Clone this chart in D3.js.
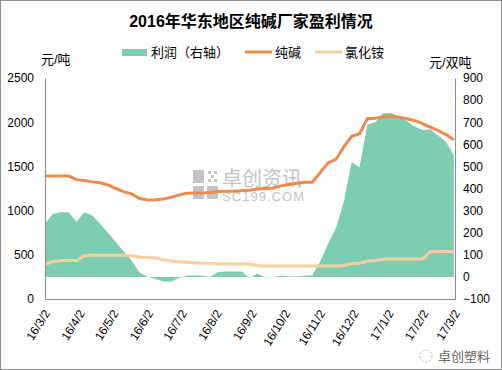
<!DOCTYPE html>
<html>
<head>
<meta charset="utf-8">
<script src="https://cdn.jsdelivr.net/npm/d3@7"></script>
<style>
  body { margin: 0; background: #fff; }
  svg { display: block; }
  text { font-family: "Liberation Sans", "Noto Sans CJK SC", sans-serif; }
</style>
</head>
<body>
<div id="chart"></div>
<script>
// weekly data, first week 2016-03-02
var startDate = new Date(2016, 2, 2);

// 纯碱 (元/吨, left axis)
var sodaAsh = [1390, 1390, 1390, 1390, 1350, 1340, 1325, 1315, 1290, 1250,
    1215, 1190, 1140, 1120, 1120, 1130, 1150, 1175, 1195, 1200,
    1200, 1205, 1215, 1220, 1220, 1225, 1230, 1245, 1250, 1255,
    1280, 1295, 1310, 1320, 1320, 1430, 1540, 1580, 1720, 1840,
    1870, 2040, 2045, 2060, 2070, 2055, 2040, 2020, 1985, 1945,
    1905, 1860, 1800];

// 氯化铵 (元/吨, left axis)
var ammonium = [390, 425, 435, 435, 435, 490, 495, 495, 495, 495,
    495, 490, 475, 472, 465, 445, 430, 422, 415, 410,
    405, 403, 400, 398, 396, 396, 396, 380, 373, 373,
    373, 373, 373, 373, 373, 373, 373, 373, 380, 400,
    405, 430, 435, 450, 452, 452, 452, 452, 452, 535,
    538, 538, 538];

// 利润 (元/双吨, right axis)
var profit = [240, 285, 293, 293, 250, 293, 278, 240, 200, 158,
    115, 75, 20, 2, -10, -20, -22, -5, 5, 6,
    5, 0, 22, 24, 24, 24, -5, 15, -3, 0,
    5, 3, 2, 5, 8, 70, 150, 220, 340, 520,
    495, 690, 700, 740, 742, 725, 705, 680, 665, 668,
    640, 610, 550];

var xLabels = ["16/3/2", "16/4/2", "16/5/2", "16/6/2", "16/7/2", "16/8/2", "16/9/2",
    "16/10/2", "16/11/2", "16/12/2", "17/1/2", "17/2/2", "17/3/2"];
var leftTicks = [0, 500, 1000, 1500, 2000, 2500];
var rightTicks = [-100, 0, 100, 200, 300, 400, 500, 600, 700, 800, 900];

var seriesNames = ["利润（右轴）", "纯碱", "氯化铵"];
var colors = ["#7dcdb4", "#ee8a4c", "#f9cf9f"];

var svgWidth = 502;
var svgHeight = 370;
var margin = { top: 78, right: 47, bottom: 71, left: 45 };
var chartWidth = svgWidth - margin.left - margin.right;
var chartHeight = svgHeight - margin.top - margin.bottom;

var dates = sodaAsh.map(function(d, i) { return d3.timeDay.offset(startDate, i * 7); });
var tickDates = xLabels.map(function(d, i) { return new Date(2016, 2 + i, 2); });

var svg = d3.select("#chart")
    .append("svg")
    .attr("width", svgWidth)
    .attr("height", svgHeight);

svg.append("rect")
    .attr("x", 0.5).attr("y", 0.5)
    .attr("width", svgWidth - 1).attr("height", svgHeight - 1)
    .attr("fill", "#fff")
    .attr("stroke", "#8c8c8c");

var chartGroup = svg.append("g")
    .attr("transform", `translate(${margin.left}, ${margin.top})`);

var x = d3.scaleTime()
    .domain([tickDates[0], tickDates[tickDates.length - 1]])
    .range([0, chartWidth]);
var yLeft = d3.scaleLinear().domain([0, 2500]).range([chartHeight, 0]);
var yRight = d3.scaleLinear().domain([-100, 900]).range([chartHeight, 0]);

// watermark
var wm = chartGroup.append("g").attr("transform", "translate(148, 92)").attr("fill", "#c4c4c4");
[[0, 0, 11, 13], [0, 16, 11, 13], [14, 16, 11, 13]].forEach(function(r) {
    wm.append("rect").attr("x", r[0]).attr("y", r[1]).attr("width", r[2]).attr("height", r[3]);
});
[[15, 1], [21, 1], [18, 5], [15, 9], [21, 9]].forEach(function(r) {
    wm.append("rect").attr("x", r[0]).attr("y", r[1]).attr("width", 3).attr("height", 3);
});
wm.append("text").attr("x", 29).attr("y", 16)
    .attr("font-size", "20px").text("卓创资讯");
wm.append("text").attr("x", 29).attr("y", 31)
    .attr("font-size", "13px").attr("font-family", "Liberation Serif")
    .attr("textLength", 82).text("SC199.COM");

// profit area
var area = d3.area()
    .x(function(d, i) { return x(dates[i]); })
    .y0(yRight(0))
    .y1(function(d) { return yRight(d); });

chartGroup.append("path")
    .datum(profit)
    .attr("d", area)
    .attr("fill", colors[0]);

var lineLeft = d3.line()
    .x(function(d, i) { return x(dates[i]); })
    .y(function(d) { return yLeft(d); });

chartGroup.append("path")
    .datum(ammonium)
    .attr("d", lineLeft)
    .attr("fill", "none")
    .attr("stroke", colors[2])
    .attr("stroke-width", 3);

chartGroup.append("path")
    .datum(sodaAsh)
    .attr("d", lineLeft)
    .attr("fill", "none")
    .attr("stroke", colors[1])
    .attr("stroke-width", 3);

// axes
var leftAxis = d3.axisLeft(yLeft).tickValues(leftTicks).tickSize(0).tickPadding(11)
    .tickFormat(d3.format("d"));
var rightAxis = d3.axisRight(yRight).tickValues(rightTicks).tickSize(0).tickPadding(8)
    .tickFormat(d3.format("d"));
var bottomAxis = d3.axisBottom(x).tickValues(tickDates).tickSize(0)
    .tickFormat(function(d, i) { return xLabels[i]; });

var gl = chartGroup.append("g").call(leftAxis);
var gr = chartGroup.append("g").attr("transform", `translate(${chartWidth}, 0)`).call(rightAxis);
var gb = chartGroup.append("g").attr("transform", `translate(0, ${chartHeight})`).call(bottomAxis);

[gl, gr, gb].forEach(function(g) {
    g.select(".domain").attr("stroke", "#8c8c8c");
    g.selectAll("text").attr("font-size", "12px").attr("fill", "#000")
        .attr("font-family", "Liberation Sans");
});

gb.selectAll("text")
    .attr("text-anchor", "end")
    .attr("dy", null)
    .attr("y", 0)
    .attr("transform", "translate(5, 14) rotate(-58)");

// unit labels
svg.append("text").attr("x", 41).attr("y", 64)
    .attr("font-size", "13px").text("元/吨");
svg.append("text").attr("x", 429).attr("y", 67)
    .attr("font-size", "13px").text("元/双吨");

// title
svg.append("text")
    .attr("x", 251).attr("y", 27)
    .attr("text-anchor", "middle")
    .attr("font-size", "16px")
    .attr("font-weight", "bold")
    .attr("font-family", "Liberation Serif, Noto Sans CJK SC")
    .text("2016年华东地区纯碱厂家盈利情况");

// legend
var legend = svg.append("g").attr("transform", "translate(122, 52)");
var legendX = [0, 123, 193];
seriesNames.forEach(function(name, i) {
    var g = legend.append("g").attr("transform", `translate(${legendX[i]}, 0)`);
    if (i === 0) {
        g.append("rect").attr("x", 0).attr("y", -3).attr("width", 25).attr("height", 7)
            .attr("fill", colors[0]);
    } else {
        g.append("line").attr("x1", 0).attr("x2", 27).attr("y1", 0).attr("y2", 0)
            .attr("stroke", colors[i]).attr("stroke-width", 3);
    }
    g.append("text").attr("x", i === 0 ? 29 : 30).attr("y", 5)
        .attr("font-size", "13px").text(name);
});

// corner mark
var mark = svg.append("g").attr("transform", "translate(426, 356)");
mark.append("circle").attr("cx", 0).attr("cy", 0).attr("r", 6)
    .attr("fill", "none").attr("stroke", "#aaa").attr("stroke-dasharray", "2,2");
mark.append("text").attr("x", 12).attr("y", 5)
    .attr("font-size", "13px").attr("fill", "#666").text("卓创塑料");
</script>
</body>
</html>
